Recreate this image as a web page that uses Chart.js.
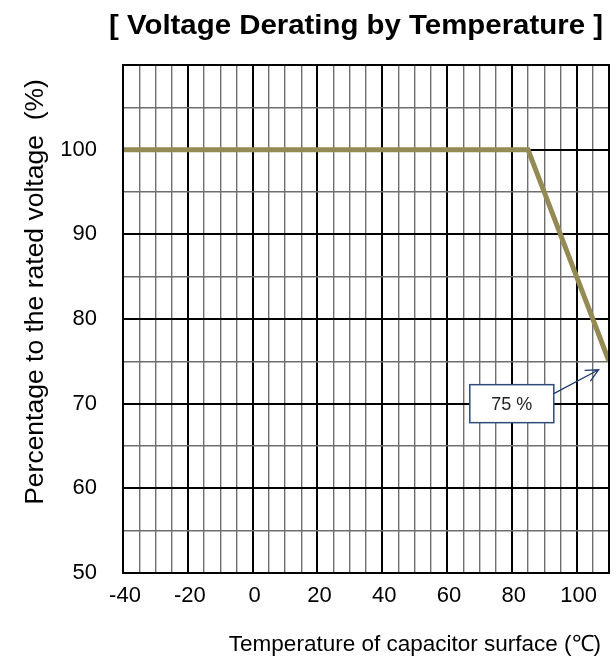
<!DOCTYPE html>
<html>
<head>
<meta charset="utf-8">
<script src="https://cdn.jsdelivr.net/npm/chart.js@4"></script>
<style>
  body { margin: 0; background: #fff; }
  canvas { display: block; }
</style>
</head>
<body>
<canvas id="derating" width="616" height="661"></canvas>
<script>
// curve: surface temperature (°C) vs allowed % of rated voltage
const temps = [-40, 85, 110];
const ratedPct = [100, 100, 75];

const xTickLabels = [-40, -20, 0, 20, 40, 60, 80, 100];
const yTickLabels = [50, 60, 70, 80, 90, 100];

const chartTitle = "[ Voltage Derating by Temperature ]";
const xTitle = "Temperature of capacitor surface (\u2103)";
const yTitle = "Percentage to the rated voltage  (%)";

// callout "75 %" box (centre) and arrow tip, in data units
const noteText = "75 %";
const notePos = [80, 70];
const arrowTip = [106.8, 74];

const FONT = "'Liberation Sans', Arial, sans-serif";

const extras = {
  id: "extras",
  afterDatasetsDraw(chart) {
    const ctx = chart.ctx;
    const a = chart.chartArea;
    const xs = chart.scales.x, ys = chart.scales.y;
    ctx.save();

    // plot frame
    ctx.strokeStyle = "#000";
    ctx.lineWidth = 2;
    ctx.strokeRect(a.left, a.top, a.right - a.left, a.bottom - a.top);

    // callout box
    const cx = xs.getPixelForValue(notePos[0]);
    const cy = ys.getPixelForValue(notePos[1]);
    const bw = 84, bh = 38;
    ctx.fillStyle = "#fff";
    ctx.fillRect(cx - bw / 2, cy - bh / 2, bw, bh);
    ctx.strokeStyle = "#2f4b7c";
    ctx.lineWidth = 1.5;
    ctx.strokeRect(cx - bw / 2, cy - bh / 2, bw, bh);
    ctx.fillStyle = "#222";
    ctx.font = "18px " + FONT;
    ctx.textAlign = "center";
    ctx.textBaseline = "middle";
    ctx.fillText(noteText, cx, cy + 1);

    // arrow
    const sx = cx + bw / 2, sy = cy - bh / 2 + 9;
    const tx = xs.getPixelForValue(arrowTip[0]);
    const ty = ys.getPixelForValue(arrowTip[1]);
    const ang = Math.atan2(ty - sy, tx - sx);
    ctx.strokeStyle = "#1f3a6e";
    ctx.lineWidth = 1.3;
    ctx.beginPath();
    ctx.moveTo(sx, sy);
    ctx.lineTo(tx, ty);
    ctx.moveTo(tx - 14 * Math.cos(ang - 0.45), ty - 14 * Math.sin(ang - 0.45));
    ctx.lineTo(tx, ty);
    ctx.lineTo(tx - 14 * Math.cos(ang + 0.45), ty - 14 * Math.sin(ang + 0.45));
    ctx.stroke();

    // titles
    ctx.fillStyle = "#000";
    ctx.textAlign = "center";
    ctx.textBaseline = "alphabetic";
    ctx.save();
    ctx.translate(356, 34);
    ctx.scale(1.05, 1);
    ctx.font = "bold 28px " + FONT;
    ctx.fillText(chartTitle, 0, 0);
    ctx.restore();

    ctx.font = "22.5px " + FONT;
    ctx.textAlign = "right";
    ctx.fillText(xTitle, 601, 651);

    ctx.translate(43, 292);
    ctx.rotate(-Math.PI / 2);
    ctx.textAlign = "center";
    ctx.font = "26.5px " + FONT;
    ctx.fillText(yTitle, 0, 0);
    ctx.restore();
  }
};

function gridColor(ctx, major) {
  return ctx.tick && ctx.tick.value % major === 0 ? "#000" : "#6e6e6e";
}
function gridWidth(ctx, major) {
  return ctx.tick && ctx.tick.value % major === 0 ? 2 : 1.4;
}

new Chart(document.getElementById("derating"), {
  type: "scatter",
  data: {
    datasets: [{
      data: temps.map((t, i) => ({ x: t, y: ratedPct[i] })),
      showLine: true,
      borderColor: "#948a54",
      borderWidth: 5,
      pointRadius: 0,
      tension: 0
    }]
  },
  options: {
    responsive: false,
    animation: false,
    layout: { padding: { top: 65, right: 7, left: 0, bottom: 0 } },
    plugins: {
      legend: { display: false },
      tooltip: { enabled: false }
    },
    scales: {
      x: {
        type: "linear",
        min: -40,
        max: 110,
        afterFit: (s) => { s.height = 88; s.paddingLeft = 0; s.paddingRight = 0; },
        border: { display: false },
        grid: {
          drawTicks: false,
          color: (c) => gridColor(c, 20),
          lineWidth: (c) => gridWidth(c, 20)
        },
        ticks: {
          stepSize: 5,
          autoSkip: false,
          maxRotation: 0,
          padding: 10,
          labelOffset: 2,
          color: "#000",
          font: { family: FONT, size: 22 },
          callback: (v) => xTickLabels.includes(v) ? String(v) : ""
        }
      },
      y: {
        min: 50,
        max: 110,
        afterFit: (s) => { s.width = 123; s.paddingTop = 0; s.paddingBottom = 0; },
        border: { display: false },
        grid: {
          drawTicks: false,
          color: (c) => gridColor(c, 10),
          lineWidth: (c) => gridWidth(c, 10)
        },
        ticks: {
          stepSize: 5,
          autoSkip: false,
          padding: 26,
          color: "#000",
          font: { family: FONT, size: 22 },
          callback: (v) => yTickLabels.includes(v) ? String(v) : ""
        }
      }
    }
  },
  plugins: [extras]
});
</script>
</body>
</html>
